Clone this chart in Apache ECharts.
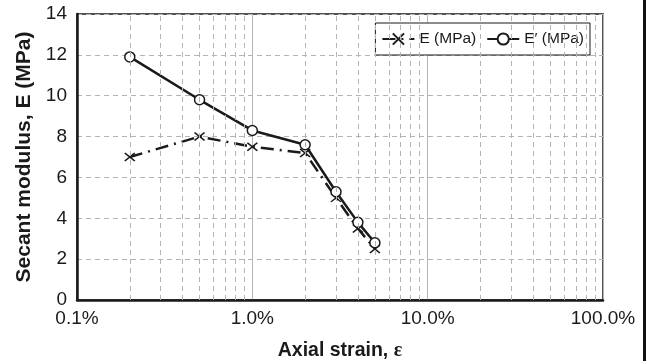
<!DOCTYPE html>
<html>
<head>
<meta charset="utf-8">
<script src="https://cdn.jsdelivr.net/npm/echarts@6/dist/echarts.min.js"></script>
<style>
  html, body { margin: 0; padding: 0; background: #fff; }
  #chart { width: 652px; height: 361px; }
</style>
</head>
<body>
<div id="chart"></div>
<script>
// Axial strain in percent (log scale) and secant moduli in MPa
const strainPct = [0.2, 0.5, 1, 2, 3, 4, 5];
const modulusE = [7.0, 8.0, 7.5, 7.2, 5.0, 3.5, 2.5];
const modulusEPrime = [11.9, 9.8, 8.3, 7.6, 5.3, 3.8, 2.8];
const seriesNames = ['E (MPa)', 'E\u2032 (MPa)'];
const yTicks = [0, 2, 4, 6, 8, 10, 12, 14];
const xDecades = [0.1, 1, 10, 100];

// Minor vertical grid positions: 2..9 within each decade
const minorGrid = [];
xDecades.slice(0, -1).forEach(function (d) {
  for (let k = 2; k <= 9; k++) minorGrid.push(+(d * k).toPrecision(3));
});

const FONT = "'Liberation Sans', Arial, Helvetica, sans-serif";
const INK = '#1a1a1a';
const GRID_GREY = '#b4b4b4';

const chart = echarts.init(document.getElementById('chart'), null, { renderer: 'canvas' });

chart.setOption({
  animation: false,
  backgroundColor: '#fff',
  textStyle: { fontFamily: FONT },
  grid: {
    left: 77, right: 49, top: 14, bottom: 61,
    containLabel: false,
    outerBoundsMode: 'none',
    show: true, borderColor: INK, borderWidth: 1.5
  },
  legend: {
    data: seriesNames,
    right: 62, top: 23,
    orient: 'horizontal',
    backgroundColor: '#fff',
    borderColor: INK, borderWidth: 1,
    padding: [8, 6, 8, 6],
    itemGap: 10,
    itemWidth: 32, itemHeight: 14,
    textStyle: { fontFamily: FONT, fontSize: 15.5, color: INK }
  },
  xAxis: {
    type: 'log', logBase: 10, min: xDecades[0], max: xDecades[xDecades.length - 1],
    name: '{a|Axial strain, }{b|\u03b5}',
    nameLocation: 'middle', nameGap: 41,
    nameTextStyle: {
      rich: {
        a: { fontFamily: FONT, fontWeight: 'bold', fontSize: 19.5, color: INK },
        b: { fontFamily: "'Liberation Serif', 'Times New Roman', serif", fontWeight: 'bold', fontSize: 20, color: INK }
      }
    },
    axisLine: { show: true, lineStyle: { color: INK, width: 2.5 } },
    axisTick: { show: false },
    axisLabel: {
      fontSize: 19, color: INK, margin: 9, fontFamily: FONT,
      formatter: function (v) { return (+v).toFixed(1) + '%'; }
    },
    splitLine: { show: true, lineStyle: { color: GRID_GREY, width: 1, type: 'solid' } }
  },
  yAxis: {
    type: 'value', min: yTicks[0], max: yTicks[yTicks.length - 1], interval: 2,
    name: 'Secant modulus, E (MPa)',
    nameLocation: 'middle', nameGap: 31,
    nameTextStyle: { fontFamily: FONT, fontWeight: 'bold', fontSize: 21, color: INK },
    axisLine: { show: true, lineStyle: { color: INK, width: 2.5 } },
    axisTick: { show: false },
    axisLabel: { fontSize: 19, color: INK, margin: 10, fontFamily: FONT },
    splitLine: { show: true, lineStyle: { color: GRID_GREY, width: 1, type: [5, 4] } }
  },
  series: [
    {
      // carrier for the dashed minor grid lines
      name: 'grid-minor',
      type: 'line',
      data: [],
      z: 1,
      silent: true,
      markLine: {
        silent: true,
        symbol: ['none', 'none'],
        label: { show: false },
        lineStyle: { color: GRID_GREY, width: 1, type: [5, 4] },
        emphasis: { disabled: true },
        data: minorGrid.map(function (v) { return { xAxis: v }; })
      }
    },
    {
      name: seriesNames[0],
      type: 'line',
      z: 3,
      data: strainPct.map(function (x, i) { return [x, modulusE[i]]; }),
      symbol: 'path://M0,0L10,8M10,0L0,8',
      symbolSize: [10, 8],
      lineStyle: { color: INK, width: 2.5, type: [13, 6, 2, 6] },
      itemStyle: { color: INK, borderColor: INK, borderWidth: 1.5 }
    },
    {
      name: seriesNames[1],
      type: 'line',
      z: 4,
      data: strainPct.map(function (x, i) { return [x, modulusEPrime[i]]; }),
      symbol: 'circle',
      symbolSize: 10,
      lineStyle: { color: INK, width: 2.5, type: 'solid' },
      itemStyle: { color: '#fff', borderColor: INK, borderWidth: 1.5 }
    }
  ],
  graphic: [
    {
      type: 'line',
      shape: { x1: 644.5, y1: 0, x2: 644.5, y2: 361 },
      style: { stroke: '#111', lineWidth: 3 },
      silent: true
    }
  ]
});
</script>
</body>
</html>
